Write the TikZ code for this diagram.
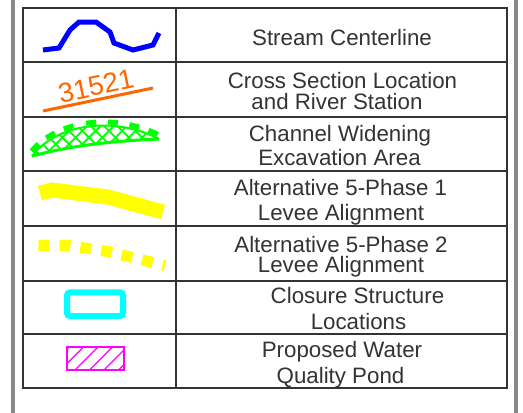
\documentclass[tikz,border=0pt]{standalone}
\usepackage{fontspec}
\setmainfont{Liberation Sans}
\usepackage{tikz}
\usetikzlibrary{calc}

\definecolor{framegray}{RGB}{51,51,51}
\definecolor{bargray}{RGB}{136,136,136}
\definecolor{streamblue}{RGB}{0,0,255}
\definecolor{xsorange}{RGB}{255,102,0}
\definecolor{widengreen}{RGB}{0,255,0}
\definecolor{leveeyellow}{RGB}{255,255,0}
\definecolor{closurecyan}{RGB}{0,255,255}
\definecolor{pondmagenta}{RGB}{255,0,255}

\begin{document}
\begin{tikzpicture}[x=1pt,y=-1pt,
	legendtext/.style={anchor=base,inner sep=0pt,text=framegray,font=\fontsize{22.3}{26}\selectfont},
	tablerule/.style={draw=framegray,line width=2pt},
	tickmark/.style={fill=widengreen,inner sep=0pt,minimum width=10pt,minimum height=5pt,anchor=south,sloped}]
	\useasboundingbox (0,0) rectangle (523,413);
	\fill[white] (0,0) rectangle (523,413);
	\draw[bargray,line width=4pt] (13,0) -- (13,413);
	\draw[bargray,line width=4pt] (516,0) -- (516,413);
	\draw[tablerule] (22.5,8) rectangle (506.5,388);
	\draw[tablerule] (176,8) -- (176,388);
	\foreach \y in {62,117,171,226,281,334}
		\draw[tablerule] (22.5,\y) -- (506.5,\y);
	\draw[streamblue,line width=5pt] (43,50) -- (59,48) -- (70,30) -- (79,22) -- (96,22) -- (110,32) -- (114,43) -- (133,50) -- (153,45) -- (159,33);
	\draw[xsorange,line width=3pt] (43,111) -- (153,88);
	\node[text=xsorange,rotate=12,inner sep=0pt,font=\fontsize{27.5}{28}\selectfont] (xsnum) at (96,86) {31521};
	\begin{scope}
		\clip (32,156) .. controls (60,120) and (120,118) .. (159,139) .. controls (110,141) and (70,146) .. (32,156) -- cycle;
		\foreach \x in {0,13.3,...,180} {
			\draw[widengreen,line width=1.8pt] (\x,160) -- ++(45,-45);
			\draw[widengreen,line width=1.8pt] (\x,115) -- ++(45,45);
		}
	\end{scope}
	\draw[widengreen,line width=2pt] (32,156) .. controls (60,120) and (120,118) .. (159,139)
		node[tickmark,pos=0.06] (tk1) {}
		node[tickmark,pos=0.2] (tk2) {}
		node[tickmark,pos=0.34] (tk3) {}
		node[tickmark,pos=0.5] (tk4) {}
		node[tickmark,pos=0.65] (tk5) {}
		node[tickmark,pos=0.8] (tk6) {}
		node[tickmark,pos=0.94] (tk7) {};
	\draw[widengreen,line width=3pt] (32,156) .. controls (70,146) and (110,141) .. (159,139);
	\draw[leveeyellow,line width=15pt] (40,193) -- (52,190) -- (108,197) -- (163,212);
	\draw[leveeyellow,line width=11pt,dash pattern=on 11pt off 10pt] (38.5,245.5) -- (70,245.7) -- (108,251.5) -- (165,265.5);
	\draw[closurecyan,line width=6pt,rounded corners=3pt] (67,292.3) rectangle (123,316);
	\begin{scope}
		\clip (67,347) rectangle (124,370);
		\foreach \x in {46,60.5,75,89.5,104,118.5}
			\draw[pondmagenta,line width=1.3pt] (\x,370) -- ++(23,-23);
	\end{scope}
	\draw[pondmagenta,line width=1.5pt] (67,347) rectangle (124,370);
	\node[legendtext] (sc) at (342,45.5) {Stream Centerline};
	\node[legendtext] (xsa) at (342.5,88) {Cross Section Location};
	\node[legendtext] (xsb) at (337,109) {and River Station};
	\node[legendtext] (cwa) at (340,141) {Channel Widening};
	\node[legendtext] (cwb) at (339.5,165) {Excavation Area};
	\node[legendtext] (pha) at (340.5,195) {Alternative 5-Phase 1};
	\node[legendtext] (phb) at (341,220) {Levee Alignment};
	\node[legendtext] (pta) at (341,252) {Alternative 5-Phase 2};
	\node[legendtext] (ptb) at (341,272) {Levee Alignment};
	\node[legendtext] (csa) at (357.5,303) {Closure Structure};
	\node[legendtext] (csb) at (358.5,329) {Locations};
	\node[legendtext] (wqa) at (342,357) {Proposed Water};
	\node[legendtext] (wqb) at (340.5,383) {Quality Pond};
\end{tikzpicture}
\end{document}
